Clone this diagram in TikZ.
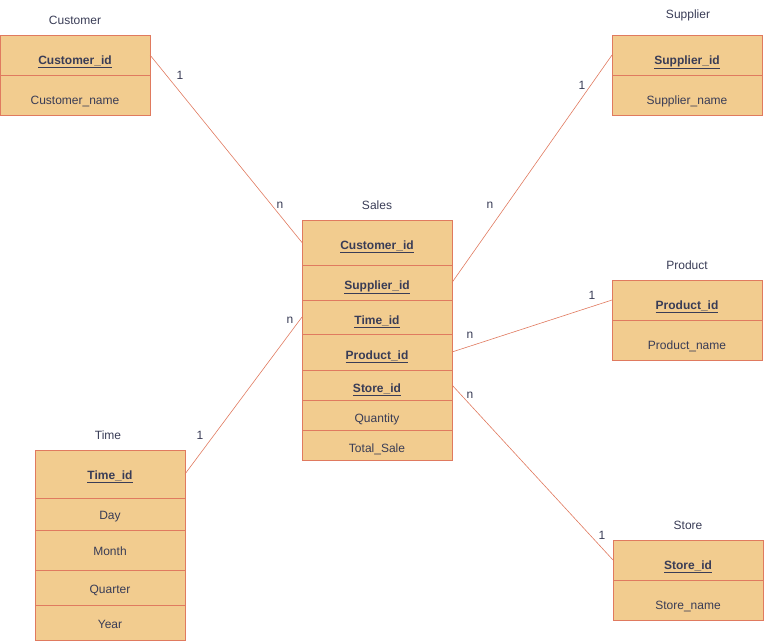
\documentclass[tikz,border=0pt]{standalone}
\usepackage{fontspec}
\setmainfont{Liberation Sans}
\usetikzlibrary{positioning}
\definecolor{ersand}{HTML}{F2CC8F}
\definecolor{erline}{HTML}{E07A5F}
\definecolor{erink}{HTML}{393C56}
\newcommand{\keyfield}[1]{\textbf{\underline{#1}}}
\tikzset{
  field/.style={draw=erline,fill=ersand,line width=.8pt,text=erink,minimum width=150,inner sep=0pt,outer sep=0pt,anchor=north west,text height=11pt,text depth=0pt},
  low/.style={text height=18pt},
  title/.style={text=erink},
  card/.style={text=erink},
  link/.style={draw=erline,line width=.6pt}
}
\begin{document}
\begin{tikzpicture}[x=1pt,y=-1pt,font=\fontsize{12}{14}\selectfont]
\useasboundingbox (0,0) rectangle (765,641);
% entities
\node[title] (customer) at (75,20) {Customer};
\foreach \n/\t/\y in {ccust/{\keyfield{Customer\_id}}/35,cname/{Customer\_name}/75}
  \node[field,low,minimum height=40] (\n) at (0,\y) {\t};
\node[title] (supplier) at (688,15) {Supplier};
\foreach \n/\t/\y in {psupp/{\keyfield{Supplier\_id}}/35,pname/{Supplier\_name}/75}
  \node[field,low,minimum height=40] (\n) at (612,\y) {\t};
\node[title] (product) at (687,265) {Product};
\foreach \n/\t/\y in {rprod/{\keyfield{Product\_id}}/280,rname/{Product\_name}/320}
  \node[field,low,minimum height=40] (\n) at (612,\y) {\t};
\node[title] (store) at (688,525) {Store};
\foreach \n/\t/\y in {ostore/{\keyfield{Store\_id}}/540,oname/{Store\_name}/580}
  \node[field,low,minimum height=40] (\n) at (613,\y) {\t};
\node[title] (time) at (108,435) {Time};
\foreach \n/\t/\y/\h in {ttime/{\keyfield{Time\_id}}/450/48,tday/Day/498/32,tmonth/Month/530/40,tquarter/Quarter/570/35,tyear/Year/605/35}
  \node[field,minimum height=\h] (\n) at (35,\y) {\t};
\node[title] (sales) at (377,205) {Sales};
\foreach \n/\t/\y/\h in {scust/{\keyfield{Customer\_id}}/220/45,ssupp/{\keyfield{Supplier\_id}}/265/35,stime/{\keyfield{Time\_id}}/300/34,sprod/{\keyfield{Product\_id}}/334/36,sstore/{\keyfield{Store\_id}}/370/30,sqty/Quantity/400/30,stotal/Total\_Sale/430/30}
  \node[field,text height=14pt,minimum height=\h] (\n) at (302,\y) {\t};
% relations
\draw[link] (ccust.east) -- (scust.west);
\draw[link] (psupp.west) -- (ssupp.east);
\draw[link] (ttime.east) -- (stime.west);
\draw[link] (rprod.west) -- (sprod.east);
\draw[link] (ostore.west) -- (sstore.east);
% cardinalities
\node[card] (cust1) at (180,75) {1};
\node[card] (custn) at (280,205) {n};
\node[card] (supp1) at (582,85) {1};
\node[card] (suppn) at (490,205) {n};
\node[card] (time1) at (200,435) {1};
\node[card] (timen) at (290,320) {n};
\node[card] (prod1) at (592,295) {1};
\node[card] (prodn) at (470,335) {n};
\node[card] (store1) at (602,535) {1};
\node[card] (storen) at (470,395) {n};
\end{tikzpicture}
\end{document}
